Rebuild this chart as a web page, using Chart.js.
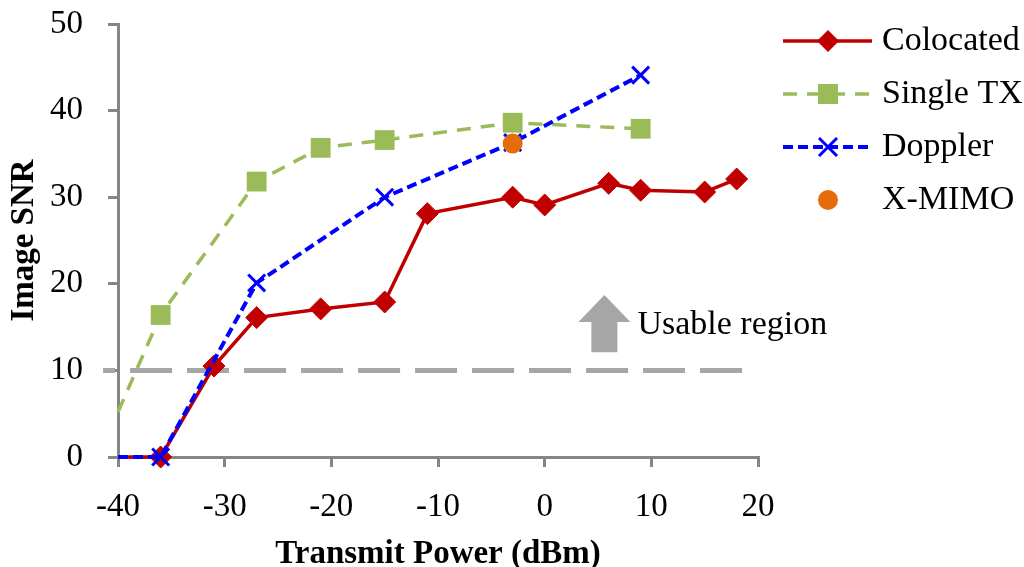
<!DOCTYPE html>
<html>
<head>
<meta charset="utf-8">
<script src="https://cdn.jsdelivr.net/npm/chart.js@4"></script>
<style>
  html, body { margin: 0; padding: 0; background: #fff; }
  #wrap { width: 1024px; height: 567px; }
</style>
</head>
<body>
<div id="wrap"><canvas id="snr_chart" width="1024" height="567"></canvas></div>
<script>
(function(){
    // values
    var colocated_x = [-40, -36, -31, -27, -21, -15, -11, -3, 0, 6, 9, 15, 18];
    var colocated_y = [0, 0, 10.5, 16.1, 17.1, 17.9, 28.1, 30.0, 29.1, 31.6, 30.8, 30.6, 32.1];
    var single_x = [-40, -36, -27, -21, -15, -3, 9];
    var single_y = [5.2, 16.4, 31.8, 35.7, 36.6, 38.6, 37.9];
    var doppler_x = [-40, -36, -27, -15, -3, 9];
    var doppler_y = [0, 0, 20.1, 30.0, 36.3, 44.1];
    var xmimo_x = [-3];
    var xmimo_y = [36.2];
    var thresh_x = [-41.4, 19.3];
    var thresh_y = [10, 10];
    var x_ticks = [-40, -30, -20, -10, 0, 10, 20];
    var y_ticks = [0, 10, 20, 30, 40, 50];
    var legend_names = ['Colocated', 'Single TX', 'Doppler', 'X-MIMO'];
    var arrow_x = 5.6, arrow_y = [12.1, 15.6, 18.7]; // base, neck, tip
    var arrow_text = 'Usable region';

    const FONT = "'Liberation Serif', 'Times New Roman', serif";

    function pts(xs, ys) {
        return xs.map(function(x, i){ return {x: x, y: ys[i]}; });
    }
    // first point of a series sits on the left axis without a marker
    function hideFirst(r) {
        return function(ctx){ return ctx.dataIndex === 0 ? 0 : r; };
    }

    const data = {
        datasets: [{
            label: 'Colocated',
            data: pts(colocated_x, colocated_y),
            borderColor: '#c00000',
            backgroundColor: '#c00000',
            borderWidth: 3.5,
            pointStyle: 'rectRot',
            pointRadius: hideFirst(11),
            pointBorderWidth: 1,
            order: 2
        },{
            label: 'Single TX',
            data: pts(single_x, single_y),
            borderColor: '#9bbb59',
            backgroundColor: '#9bbb59',
            borderWidth: 3.5,
            borderDash: [14, 10],
            pointStyle: 'rect',
            pointRadius: hideFirst(14),
            pointBorderWidth: 0,
            order: 3
        },{
            label: 'Doppler',
            data: pts(doppler_x, doppler_y),
            borderColor: '#0000ff',
            backgroundColor: '#0000ff',
            borderWidth: 4,
            borderDash: [10, 5],
            pointStyle: 'crossRot',
            pointRadius: hideFirst(12),
            pointBorderWidth: 3,
            order: 1
        },{
            label: 'X-MIMO',
            data: pts(xmimo_x, xmimo_y),
            showLine: false,
            borderColor: '#e46c0a',
            backgroundColor: '#e46c0a',
            pointStyle: 'circle',
            pointRadius: 10,
            pointBorderWidth: 0,
            order: 0
        },{
            label: 'threshold',
            data: pts(thresh_x, thresh_y),
            borderColor: '#a6a6a6',
            borderWidth: 5,
            borderDash: [42, 15],
            borderDashOffset: 30,
            pointRadius: 0,
            order: 4
        }]
    };

    // arrow + "Usable region" note
    const arrowPlugin = {
        id: 'usableArrow',
        beforeDatasetsDraw(chart) {
            const ctx = chart.ctx, xs = chart.scales.x, ys = chart.scales.y;
            const cx = xs.getPixelForValue(arrow_x);
            const yb = ys.getPixelForValue(arrow_y[0]);
            const yn = ys.getPixelForValue(arrow_y[1]);
            const yt = ys.getPixelForValue(arrow_y[2]);
            ctx.save();
            ctx.fillStyle = '#a6a6a6';
            ctx.beginPath();
            ctx.moveTo(cx - 13, yb);
            ctx.lineTo(cx - 13, yn);
            ctx.lineTo(cx - 26, yn);
            ctx.lineTo(cx, yt);
            ctx.lineTo(cx + 26, yn);
            ctx.lineTo(cx + 13, yn);
            ctx.lineTo(cx + 13, yb);
            ctx.closePath();
            ctx.fill();
            ctx.fillStyle = '#000';
            ctx.font = '34px ' + FONT;
            ctx.textAlign = 'left';
            ctx.textBaseline = 'middle';
            ctx.fillText(arrow_text, cx + 33, (yn + yt) / 2 + 17);
            ctx.restore();
        }
    };

    // legend on the right, drawn by hand to get long line samples
    const sideLegend = {
        id: 'sideLegend',
        afterDraw(chart) {
            const ctx = chart.ctx;
            const rows = [41, 94, 147, 200];
            const x0 = 783, x1 = 872, mx = 828, tx = 882;
            ctx.save();
            legend_names.forEach(function(name, i){
                const ds = chart.data.datasets[i];
                const y = rows[i];
                if (ds.showLine !== false) {
                    ctx.strokeStyle = ds.borderColor;
                    ctx.lineWidth = ds.borderWidth;
                    ctx.setLineDash(ds.borderDash || []);
                    ctx.beginPath();
                    ctx.moveTo(x0, y);
                    ctx.lineTo(x1, y);
                    ctx.stroke();
                    ctx.setLineDash([]);
                }
                ctx.fillStyle = ds.backgroundColor;
                ctx.strokeStyle = ds.borderColor;
                ctx.beginPath();
                if (ds.pointStyle === 'rectRot') {
                    ctx.moveTo(mx - 11, y); ctx.lineTo(mx, y - 11);
                    ctx.lineTo(mx + 11, y); ctx.lineTo(mx, y + 11);
                    ctx.closePath(); ctx.fill();
                } else if (ds.pointStyle === 'rect') {
                    ctx.rect(mx - 10, y - 10, 20, 20); ctx.fill();
                } else if (ds.pointStyle === 'crossRot') {
                    ctx.lineWidth = 3;
                    ctx.moveTo(mx - 9, y - 9); ctx.lineTo(mx + 9, y + 9);
                    ctx.moveTo(mx + 9, y - 9); ctx.lineTo(mx - 9, y + 9);
                    ctx.stroke();
                } else {
                    ctx.arc(mx, y, 10, 0, Math.PI * 2); ctx.fill();
                }
                ctx.fillStyle = '#000';
                ctx.font = '34px ' + FONT;
                ctx.textAlign = 'left';
                ctx.textBaseline = 'middle';
                ctx.fillText(name, tx, y);
            });
            ctx.restore();
        }
    };

    const axisColor = '#868686';

    const config = {
        type: 'line',
        data,
        options: {
            responsive: false,
            animation: false,
            layout: { padding: { top: 24, right: 266, left: 0, bottom: 0 } },
            scales: {
                x: {
                    type: 'linear',
                    min: -40,
                    max: 20,
                    afterFit: function(s){ s.height = 110; s.paddingLeft = 0; s.paddingRight = 0; },
                    afterBuildTicks: function(s){ s.ticks = x_ticks.map(function(v){ return {value: v}; }); },
                    grid: { drawOnChartArea: false, drawTicks: true, tickLength: 10, color: axisColor, lineWidth: 3 },
                    border: { color: axisColor, width: 3 },
                    ticks: { color: '#000', padding: 21, maxRotation: 0, font: { family: FONT, size: 33 } },
                    title: {
                        display: true,
                        text: 'Transmit Power (dBm)',
                        color: '#000',
                        padding: { top: 0, bottom: 0 },
                        font: { family: FONT, size: 33, weight: 'bold', lineHeight: 0.75 }
                    }
                },
                y: {
                    type: 'linear',
                    min: 0,
                    max: 50,
                    afterFit: function(s){ s.width = 118; s.paddingTop = 0; s.paddingBottom = 0; },
                    afterBuildTicks: function(s){ s.ticks = y_ticks.map(function(v){ return {value: v}; }); },
                    grid: { drawOnChartArea: false, drawTicks: true, tickLength: 10, color: axisColor, lineWidth: 3 },
                    border: { color: axisColor, width: 3 },
                    ticks: { color: '#000', padding: 25, font: { family: FONT, size: 33 } },
                    title: {
                        display: true,
                        text: 'Image SNR',
                        color: '#000',
                        padding: { top: 11, bottom: 0 },
                        font: { family: FONT, size: 33, weight: 'bold', lineHeight: 0.8 }
                    }
                }
            },
            datasets: { line: { clip: false, tension: 0 } },
            plugins: {
                legend: { display: false },
                tooltip: { enabled: false }
            }
        },
        plugins: [arrowPlugin, sideLegend]
    };

    const snrChart = new Chart(
        document.getElementById('snr_chart'),
        config
    );
})();
</script>
</body>
</html>
